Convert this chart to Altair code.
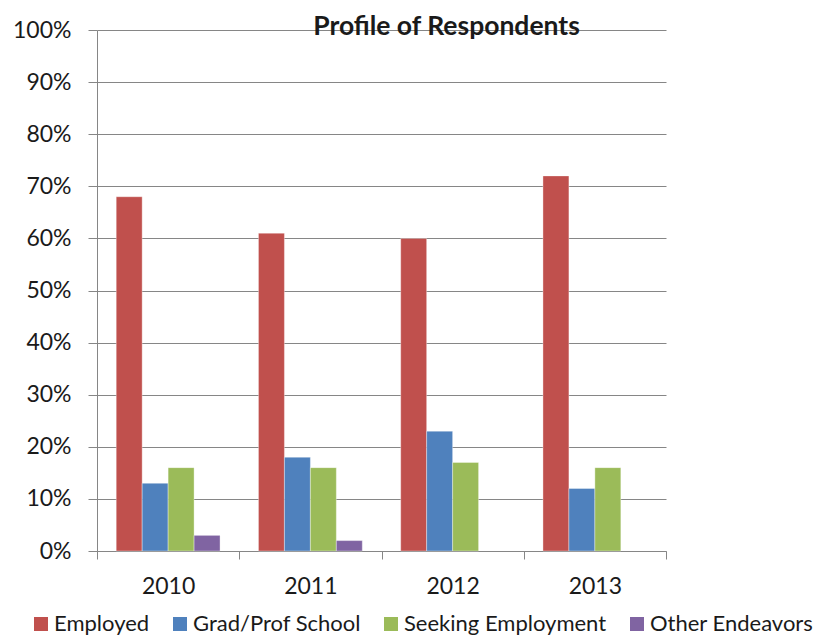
import altair as alt
import pandas as pd

years = ["2010", "2011", "2012", "2013"]
series = ["Employed", "Grad/Prof School", "Seeking Employment", "Other Endeavors"]
employed = [68, 61, 60, 72]
grad_prof = [13, 18, 23, 12]
seeking = [16, 16, 17, 16]
other = [3, 2, 0, 0]
colors = ["#C0504D", "#4F81BD", "#9BBB59", "#8064A2"]
y_ticks = [i / 10 for i in range(11)]

rows = []
for s, vals in zip(series, [employed, grad_prof, seeking, other]):
    for yr, v in zip(years, vals):
        rows.append({"year": yr, "series": s, "value": v / 100})
df = pd.DataFrame(rows)

FONT = "Lato"
TXT = "#1a1a1a"
GRID = "#868686"

chart = (
    alt.Chart(df)
    .transform_filter("datum.value > 0")
    .mark_bar(stroke="#ffffff", strokeWidth=0.6, strokeOpacity=0.6)
    .encode(
        x=alt.X(
            "year:N",
            sort=years,
            scale=alt.Scale(paddingInner=0, paddingOuter=0),
            axis=alt.Axis(
                title=None,
                labelAngle=0,
                tickBand="extent",
                tickSize=8,
                tickColor=GRID,
                domainColor=GRID,
                labelFontSize=23,
                labelFont=FONT,
                labelColor=TXT,
                labelPadding=16,
            ),
        ),
        xOffset=alt.XOffset(
            "series:N",
            sort=series,
            scale=alt.Scale(domain=series, paddingInner=0, paddingOuter=0.74),
        ),
        y=alt.Y(
            "value:Q",
            scale=alt.Scale(domain=[0, 1], nice=False),
            axis=alt.Axis(
                title=None,
                format=".0%",
                values=y_ticks,
                tickSize=9,
                tickColor=GRID,
                domainColor=GRID,
                gridColor=GRID,
                gridWidth=1,
                labelFontSize=23,
                labelFont=FONT,
                labelColor=TXT,
                labelPadding=17,
            ),
        ),
        color=alt.Color(
            "series:N",
            sort=series,
            scale=alt.Scale(domain=series, range=colors),
            legend=alt.Legend(
                title=None,
                orient="none",
                direction="horizontal",
                legendX=-67,
                legendY=583,
                symbolType="square",
                symbolSize=196,
                symbolStrokeWidth=0,
                labelFontSize=22,
                labelFont=FONT,
                labelColor=TXT,
                labelLimit=400,
                columnPadding=19,
                labelOffset=2,
            ),
        ),
    )
    .properties(
        width=569,
        height=521,
        title=alt.TitleParams(
            "Profile of Respondents",
            font=FONT,
            fontSize=26.5,
            fontWeight="bold",
            color=TXT,
            anchor="middle",
            dx=65,
            offset=-21,
        ),
        padding={"left": 89, "top": 22, "right": 166, "bottom": 90},
        autosize=alt.AutoSizeParams(type="none"),
    )
    .configure_view(stroke=None)
    .configure_axis(domainWidth=1, tickWidth=1)
)

chart.save("out.html", embed_options={"renderer": "svg", "actions": False})
